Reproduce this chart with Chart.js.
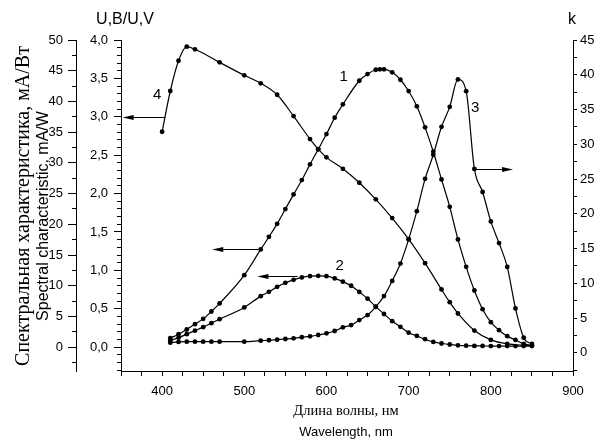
<!DOCTYPE html>
<html>
<head>
<meta charset="utf-8">
<script src="https://cdn.jsdelivr.net/npm/chart.js@4.4.1/dist/chart.umd.min.js"></script>
<style>
  html, body { margin: 0; padding: 0; background: #fff; }
  #wrap { width: 602px; height: 444px; }
</style>
</head>
<body>
<div id="wrap"><canvas id="chart" width="602" height="444"></canvas></div>
<script>
// Spectral characteristics vs wavelength (curves 1-4)
const SANS = "'Liberation Sans', Arial, sans-serif";
const SERIF = "'Liberation Serif', 'Times New Roman', serif";

// curve 1: spectral characteristic, mA/W
const wl1 = [410, 420, 430, 440, 450, 460, 470, 500, 520, 530, 540, 550, 560, 570, 580, 590, 600, 610, 620,
  640, 650, 660, 665, 670, 680, 690, 700, 710, 720, 730, 740, 750, 760, 770, 780, 790, 800, 810, 820, 830, 840, 850];
const curve1 = [1.47, 2.12, 2.88, 3.75, 4.61, 5.81, 7.12, 11.73, 15.91, 17.96, 20.08, 22.48, 24.87, 27.2, 29.76, 32.2, 34.69, 37.35, 39.53,
  43.37, 44.46, 45.16, 45.23, 45.23, 44.74, 43.53, 41.69, 39.2, 35.78, 31.81, 27.31, 22.85, 17.54, 13.08, 9.23, 6.19, 4.07, 2.77, 1.79, 1.19, 0.54, 0.28];

// curve 2: spectral characteristic, mA/W
const wl2 = [410, 420, 430, 440, 450, 460, 470, 500, 520, 530, 540, 550, 560, 570, 580, 590, 600, 610, 620, 630, 640, 650,
  660, 670, 680, 690, 700, 710, 720, 730, 740, 750, 760, 770, 780, 790, 800, 810, 820, 830, 840, 850];
const curve2 = [1.06, 1.55, 2.12, 2.69, 3.26, 3.91, 4.56, 6.47, 8.31, 9.01, 9.82, 10.47, 10.96, 11.35, 11.56, 11.61, 11.56, 11.19, 10.67, 10.0, 9.0, 7.9,
  6.6, 5.4, 4.23, 3.31, 2.36, 1.84, 1.30, 0.86, 0.60, 0.44, 0.30, 0.24, 0.21, 0.20, 0.19, 0.19, 0.18, 0.18, 0.18, 0.18];

// curve 3: k (right axis)
const wl3 = wl2;
const curve3 = [1.48, 1.58, 1.62, 1.62, 1.62, 1.62, 1.62, 1.62, 1.76, 1.82, 1.91, 2.0, 2.1, 2.25, 2.39, 2.58, 2.82, 3.15, 3.68, 4.0, 4.73, 5.44,
  6.63, 8.17, 10.36, 12.85, 16.33, 20.39, 25.03, 28.5, 32.52, 35.39, 39.33, 37.64, 26.46, 23.14, 18.91, 15.8, 12.36, 6.4, 2.19, 1.29];

// curve 4: U,B/U,V (inner left axis)
const wl4 = [400, 410, 420, 430, 440, 470, 500, 520, 540, 560, 580, 590, 600, 620, 640, 660, 680, 700, 720, 740, 750, 760, 780, 800, 820, 840, 850];
const curve4 = [2.805, 3.336, 3.73, 3.913, 3.879, 3.709, 3.54, 3.436, 3.287, 3.009, 2.71, 2.58, 2.472, 2.323, 2.141, 1.925, 1.681, 1.407, 1.094,
  0.752, 0.586, 0.439, 0.217, 0.095, 0.043, 0.026, 0.022];

// curve labels and arrows (data coordinates)
const curveLabels = [
  { text: '1', x: 621, axis: 'yOut', y: 44 },
  { text: '2', x: 616, axis: 'yOut', y: 13.2 },
  { text: '3', x: 781, axis: 'yK', y: 35.2 },
  { text: '4', x: 394, axis: 'yIn', y: 3.28 },
];
const arrows = [
  { axis: 'yIn', y: 3.0, from: 404, to: 352 },
  { axis: 'yOut', y: 16, from: 517, to: 461 },
  { axis: 'yOut', y: 11.6, from: 565, to: 516 },
  { axis: 'yK', y: 26.5, from: 781, to: 827 },
];

const toPoints = (xs, ys) => xs.map((x, i) => ({ x, y: ys[i] }));

function series(data, yAxisID) {
  return {
    data, yAxisID,
    borderColor: '#000', backgroundColor: '#000', borderWidth: 1.2,
    pointRadius: 2.4, pointBackgroundColor: '#000', pointBorderWidth: 0,
    cubicInterpolationMode: 'monotone', showLine: true,
  };
}

function minorAxis(position, min, max, step, weight) {
  return {
    type: 'linear', position, min, max, weight,
    ticks: { display: false, stepSize: step, includeBounds: false },
    grid: { drawOnChartArea: false, tickLength: 4, color: '#000' },
    border: { display: false },
    afterFit: s => { s.width = 0; },
  };
}

const tickFont = { family: SANS, size: 13 };

const annotate = {
  id: 'annotate',
  afterDraw(chart) {
    const { ctx, scales } = chart;
    ctx.save();
    ctx.fillStyle = '#000';
    ctx.strokeStyle = '#000';

    arrows.forEach(a => {
      const y = Math.round(scales[a.axis].getPixelForValue(a.y)) + 0.5;
      const x0 = scales.x.getPixelForValue(a.from);
      const x1 = scales.x.getPixelForValue(a.to);
      const dir = Math.sign(x1 - x0);
      ctx.lineWidth = 1;
      ctx.beginPath(); ctx.moveTo(x0, y); ctx.lineTo(x1 - dir * 8, y); ctx.stroke();
      ctx.beginPath();
      ctx.moveTo(x1, y);
      ctx.lineTo(x1 - dir * 11, y - 2.5);
      ctx.lineTo(x1 - dir * 11, y + 2.5);
      ctx.closePath(); ctx.fill();
    });

    ctx.textAlign = 'center';
    ctx.textBaseline = 'middle';
    ctx.font = '15px ' + SANS;
    curveLabels.forEach(l => {
      ctx.fillText(l.text, scales.x.getPixelForValue(l.x), scales[l.axis].getPixelForValue(l.y));
    });

    // axis titles
    ctx.font = '16px ' + SANS;
    ctx.fillText('U,B/U,V', 125, 20);
    ctx.fillText('k', 572, 20);

    ctx.font = '14.5px ' + SERIF;
    ctx.fillText('Длина волны, нм', 346, 411);
    ctx.font = '13px ' + SANS;
    ctx.fillText('Wavelength, nm', 346, 432);

    ctx.save();
    ctx.translate(24, 206);
    ctx.rotate(-Math.PI / 2);
    ctx.font = '20px ' + SERIF;
    ctx.fillText('Спектральная характеристика, мА/Вт', 0, 0);
    ctx.restore();

    ctx.save();
    ctx.translate(44, 216);
    ctx.rotate(-Math.PI / 2);
    ctx.font = '16px ' + SANS;
    ctx.fillText('Spectral characteristic, mA/W', 0, 0);
    ctx.restore();

    ctx.restore();
  }
};

new Chart(document.getElementById('chart'), {
  type: 'line',
  data: {
    datasets: [
      series(toPoints(wl1, curve1), 'yOut'),
      series(toPoints(wl2, curve2), 'yOut'),
      series(toPoints(wl3, curve3), 'yK'),
      series(toPoints(wl4, curve4), 'yIn'),
    ],
  },
  options: {
    responsive: false, animation: false, devicePixelRatio: 1,
    layout: { padding: { top: 40, left: 0, right: 0, bottom: 0 } },
    plugins: { legend: { display: false }, tooltip: { enabled: false } },
    scales: {
      x: {
        type: 'linear', position: 'bottom', min: 350, max: 900,
        ticks: { stepSize: 25, autoSkip: false, maxRotation: 0, padding: 8, color: '#000', font: tickFont,
          callback: v => (v % 100 === 0 ? v : '') },
        grid: { drawOnChartArea: false, tickLength: 5, color: '#000' },
        border: { color: '#000' },
        afterFit: s => { s.height = 73; },
      },
      yInMinor: minorAxis('left', -0.31, 4.0, 0.1, 0),
      yIn: {
        type: 'linear', position: 'left', min: -0.31, max: 4.0, weight: 1,
        ticks: { stepSize: 0.5, includeBounds: false, padding: 6, color: '#000', font: tickFont,
          callback: v => v.toFixed(1).replace('.', ',') },
        grid: { drawOnChartArea: false, tickLength: 7, color: '#000' },
        border: { color: '#000' },
        afterFit: s => { s.width = 45; },
      },
      yOutMinor: minorAxis('left', -3.875, 50, 2.5, 2),
      yOut: {
        type: 'linear', position: 'left', min: -3.875, max: 50, weight: 3,
        ticks: { stepSize: 5, includeBounds: false, padding: 5, color: '#000', font: tickFont },
        grid: { drawOnChartArea: false, tickLength: 8, color: '#000' },
        border: { color: '#000' },
        afterFit: s => { s.width = 76; },
      },
      yK: {
        type: 'linear', position: 'right', min: -2.6, max: 45,
        ticks: { stepSize: 2.5, includeBounds: false, autoSkip: false, padding: 3, color: '#000', font: tickFont,
          callback: v => (v % 5 === 0 ? v : '') },
        grid: { drawOnChartArea: false, tickLength: 4, color: '#000' },
        border: { color: '#000' },
        afterFit: s => { s.width = 29; },
      },
    },
  },
  plugins: [annotate],
});
</script>
</body>
</html>
